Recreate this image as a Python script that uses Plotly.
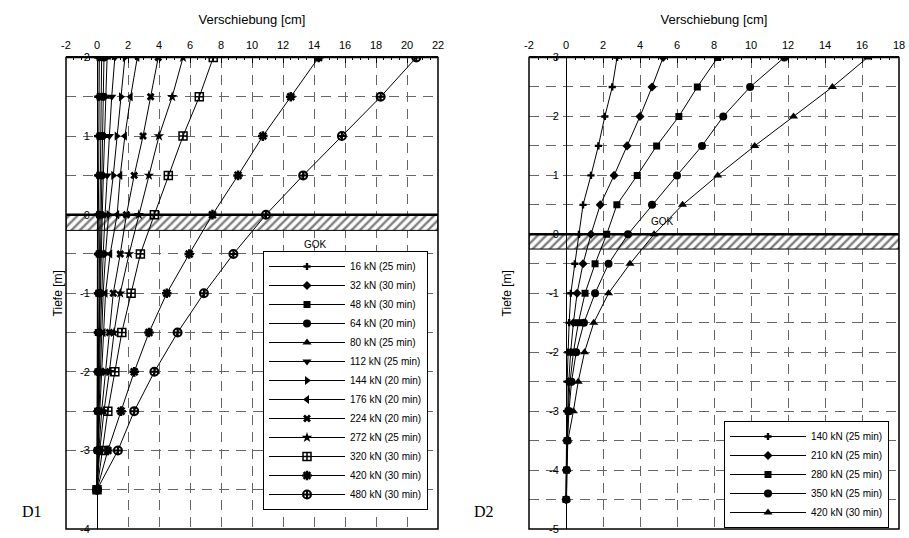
import plotly.graph_objects as go

W, H = 909, 538

# ---------------- data: D1 ----------------
depth_d1 = [2, 1.5, 1, 0.5, 0, -0.5, -1, -1.5, -2, -2.5, -3, -3.5]
labels_d1 = ["16 kN (25 min)", "32 kN (30 min)", "48 kN (30 min)", "64 kN (20 min)",
             "80 kN (25 min)", "112 kN (25 min)", "144 kN (20 min)", "176 kN (20 min)",
             "224 kN (20 min)", "272 kN (25 min)", "320 kN (30 min)", "420 kN (30 min)",
             "480 kN (30 min)"]
d1_16 = [0.05, 0.05, 0.04, 0.04, 0.03, 0.03, 0.02, 0.02, 0.01, 0.01, 0.0, 0.0]
d1_32 = [0.15, 0.13, 0.12, 0.10, 0.09, 0.07, 0.06, 0.05, 0.03, 0.02, 0.01, 0.0]
d1_48 = [0.30, 0.27, 0.24, 0.21, 0.18, 0.14, 0.11, 0.08, 0.06, 0.04, 0.02, 0.0]
d1_64 = [0.45, 0.40, 0.35, 0.30, 0.26, 0.20, 0.16, 0.12, 0.09, 0.06, 0.03, 0.0]
d1_80 = [0.65, 0.56, 0.48, 0.41, 0.34, 0.27, 0.21, 0.16, 0.12, 0.08, 0.04, 0.0]
d1_112 = [1.15, 0.95, 0.80, 0.65, 0.52, 0.40, 0.30, 0.22, 0.16, 0.10, 0.05, 0.0]
d1_144 = [1.80, 1.55, 1.27, 1.05, 0.75, 0.55, 0.40, 0.30, 0.20, 0.13, 0.06, 0.0]
d1_176 = [2.60, 2.17, 1.80, 1.50, 1.30, 0.85, 0.55, 0.42, 0.30, 0.18, 0.08, 0.0]
d1_224 = [3.95, 3.46, 2.97, 2.40, 1.90, 1.50, 1.05, 0.80, 0.55, 0.30, 0.12, 0.0]
d1_272 = [5.55, 4.85, 4.00, 3.35, 2.70, 2.07, 1.50, 1.10, 0.80, 0.45, 0.18, 0.0]
d1_320 = [7.50, 6.60, 5.55, 4.60, 3.70, 2.80, 2.20, 1.60, 1.15, 0.70, 0.35, 0.0]
d1_420 = [14.3, 12.5, 10.7, 9.10, 7.45, 5.95, 4.50, 3.35, 2.40, 1.55, 0.70, 0.0]
d1_480 = [20.6, 18.3, 15.8, 13.3, 10.9, 8.80, 6.90, 5.20, 3.70, 2.40, 1.35, 0.0]
series_d1 = [d1_16, d1_32, d1_48, d1_64, d1_80, d1_112, d1_144, d1_176,
             d1_224, d1_272, d1_320, d1_420, d1_480]
gok_d1 = (0.0, -0.2)

# ---------------- data: D2 ----------------
depth_d2 = [3, 2.5, 2, 1.5, 1, 0.5, 0, -0.5, -1, -1.5, -2, -2.5, -3, -3.5, -4, -4.5]
labels_d2 = ["140 kN (25 min)", "210 kN (25 min)", "280 kN (25 min)",
             "350 kN (25 min)", "420 kN (30 min)"]
d2_140 = [2.76, 2.50, 2.10, 1.75, 1.35, 0.92, 0.70, 0.48, 0.26, 0.17, 0.10, 0.06, 0.04, 0.02, 0.01, 0.0]
d2_210 = [5.25, 4.65, 4.00, 3.30, 2.60, 1.85, 1.35, 0.92, 0.60, 0.40, 0.25, 0.15, 0.08, 0.04, 0.02, 0.0]
d2_280 = [8.20, 7.10, 6.10, 4.90, 3.85, 2.75, 2.20, 1.57, 1.03, 0.67, 0.40, 0.22, 0.12, 0.06, 0.03, 0.0]
d2_350 = [11.8, 9.95, 8.50, 7.35, 6.00, 4.65, 3.35, 2.30, 1.57, 0.97, 0.55, 0.30, 0.16, 0.08, 0.04, 0.02]
d2_420 = [16.3, 14.4, 12.3, 10.2, 8.20, 6.30, 4.76, 3.46, 2.30, 1.50, 1.00, 0.66, 0.40, 0.10, 0.05, 0.03]
series_d2 = [d2_140, d2_210, d2_280, d2_350, d2_420]
gok_d2 = (0.0, -0.25)

xticks_d1 = [-2, 0, 2, 4, 6, 8, 10, 12, 14, 16, 18, 20, 22]
yticks_d1 = [2, 1, 0, -1, -2, -3, -4]
xticks_d2 = [-2, 0, 2, 4, 6, 8, 10, 12, 14, 16, 18]
yticks_d2 = [3, 2, 1, 0, -1, -2, -3, -4, -5]

# ---------------- styles ----------------
sym_d1 = [("cross", 6, 0), ("diamond", 7, 0), ("square", 7, 0), ("circle", 8, 0),
          ("triangle-up", 8, 0), ("triangle-down", 8, 0), ("triangle-right", 8, 0),
          ("triangle-left", 8, 0), ("x", 7, 0), ("star", 8, 0),
          ("square-cross-open", 8, 1.5), ("asterisk-open", 8, 2.5),
          ("circle-cross-open", 8, 2)]
sym_d2 = [("cross", 6, 0), ("diamond", 7, 0), ("square", 7, 0), ("circle", 8, 0),
          ("triangle-up", 8, 0)]

FONT = "Liberation Sans, Arial, sans-serif"
GRID = "#666666"
DASH = "10px,7px"

dom_x1 = [66 / W, 438 / W]
dom_x2 = [529 / W, 899 / W]
dom_y = [1 - 529 / H, 1 - 57.5 / H]


def zero_pos(dom, ticks):
    lo, hi = ticks[0], ticks[-1]
    if lo > hi:
        lo, hi = hi, lo
    return dom[0] + (0 - lo) / (hi - lo) * (dom[1] - dom[0])


def lbl(v):
    return str(v)  # plain hyphen minus as in the original


fig = go.Figure()


def add_band(xr, band, xa, ya):
    fig.add_trace(go.Scatter(
        x=[xr[0], xr[-1], xr[-1], xr[0], xr[0]],
        y=[band[0], band[0], band[1], band[1], band[0]],
        mode="lines", fill="toself", fillcolor="white",
        fillpattern=dict(shape="/", size=6, solidity=0.4, fgcolor="black", bgcolor="white"),
        line=dict(color="black", width=1), showlegend=False, hoverinfo="skip",
        xaxis=xa, yaxis=ya))
    fig.add_trace(go.Scatter(
        x=[xr[0], xr[-1]], y=[band[0], band[0]], mode="lines",
        line=dict(color="black", width=2.5), showlegend=False, hoverinfo="skip",
        xaxis=xa, yaxis=ya))


add_band(xticks_d1, gok_d1, "x", "y")
add_band(xticks_d2, gok_d2, "x2", "y2")

for vals, lab, (s, sz, lw) in zip(series_d1, labels_d1, sym_d1):
    fig.add_trace(go.Scatter(
        x=vals, y=depth_d1, mode="lines+markers", name=lab,
        line=dict(color="black", width=1),
        marker=dict(symbol=s, size=sz, color="black", line=dict(color="black", width=lw)),
        xaxis="x", yaxis="y", legend="legend"))

for vals, lab, (s, sz, lw) in zip(series_d2, labels_d2, sym_d2):
    fig.add_trace(go.Scatter(
        x=vals, y=depth_d2, mode="lines+markers", name=lab,
        line=dict(color="black", width=1),
        marker=dict(symbol=s, size=sz, color="black", line=dict(color="black", width=lw)),
        xaxis="x2", yaxis="y2", legend="legend2"))


def xaxis_cfg(dom, ticks, anchor):
    return dict(
        domain=dom, range=[ticks[0], ticks[-1]], side="top", anchor=anchor,
        tickmode="array", tickvals=ticks, ticktext=[lbl(v) for v in ticks],
        ticks="inside", ticklen=6, tickcolor="black", ticklabelstandoff=2,
        minor=dict(dtick=0.5, tick0=0, ticks="inside", ticklen=3, tickcolor="black", showgrid=False),
        showgrid=True, gridcolor=GRID, griddash=DASH, gridwidth=1.2,
        showline=True, linecolor="black", linewidth=1.5, zeroline=False,
        tickfont=dict(family=FONT, size=11, color="black"),
        title=dict(text="Verschiebung [cm]", font=dict(family=FONT, size=13, color="black"), standoff=12),
        automargin=False, fixedrange=True)


def yaxis_cfg(dom, ticks, pos, standoff):
    return dict(
        domain=dom, range=[min(ticks), max(ticks)], anchor="free", position=pos,
        tickmode="array", tickvals=ticks, ticktext=[lbl(v) for v in ticks],
        ticks="", ticklabelstandoff=5,
        minor=dict(dtick=0.5, tick0=0, showgrid=True, gridcolor=GRID, griddash=DASH, gridwidth=1.2),
        showgrid=True, gridcolor=GRID, griddash=DASH, gridwidth=1.2,
        showline=True, linecolor="black", linewidth=1, zeroline=False,
        tickfont=dict(family=FONT, size=11, color="black"),
        title=dict(text="Tiefe [m]", font=dict(family=FONT, size=12, color="black"), standoff=standoff),
        automargin=False, fixedrange=True)


fig.update_layout(
    width=W, height=H, margin=dict(l=0, r=0, t=0, b=0),
    paper_bgcolor="white", plot_bgcolor="white",
    font=dict(family=FONT, color="black"),
    xaxis=xaxis_cfg(dom_x1, xticks_d1, "y"),
    yaxis=yaxis_cfg(dom_y, yticks_d1, zero_pos(dom_x1, xticks_d1), 13),
    xaxis2=xaxis_cfg(dom_x2, xticks_d2, "y2"),
    yaxis2=yaxis_cfg(dom_y, yticks_d2, zero_pos(dom_x2, xticks_d2), 33),
    legend=dict(x=263 / W, y=1 - 251 / H, xanchor="left", yanchor="top",
                bgcolor="white", bordercolor="black", borderwidth=1,
                font=dict(family=FONT, size=10, color="black"), itemwidth=76,
                tracegroupgap=0),
    legend2=dict(x=724 / W, y=1 - 421 / H, xanchor="left", yanchor="top",
                 bgcolor="white", bordercolor="black", borderwidth=1,
                 font=dict(family=FONT, size=10, color="black"), itemwidth=76,
                 tracegroupgap=0),
    showlegend=True,
)

for xa, ya in (("x", "y"), ("x2", "y2")):
    fig.add_shape(type="rect", xref=xa + " domain", yref=ya + " domain",
                  x0=0, x1=1, y0=0, y1=1, line=dict(color="black", width=1.5),
                  fillcolor="rgba(0,0,0,0)", layer="above")

fig.add_annotation(x=14.1, y=-0.38, xref="x", yref="y", text="GOK", showarrow=False,
                   font=dict(family=FONT, size=10, color="black"))
fig.add_annotation(x=5.2, y=0.22, xref="x2", yref="y2", text="GOK", showarrow=False,
                   font=dict(family=FONT, size=10, color="black"))
fig.add_annotation(x=20 / W, y=1 - 522 / H, xref="paper", yref="paper", text="D1", showarrow=False,
                   font=dict(family="Liberation Serif, Times New Roman, serif", size=16, color="black"))
fig.add_annotation(x=484 / W, y=1 - 522 / H, xref="paper", yref="paper", text="D2", showarrow=False,
                   font=dict(family="Liberation Serif, Times New Roman, serif", size=16, color="black"))

fig.write_html("out.html")
